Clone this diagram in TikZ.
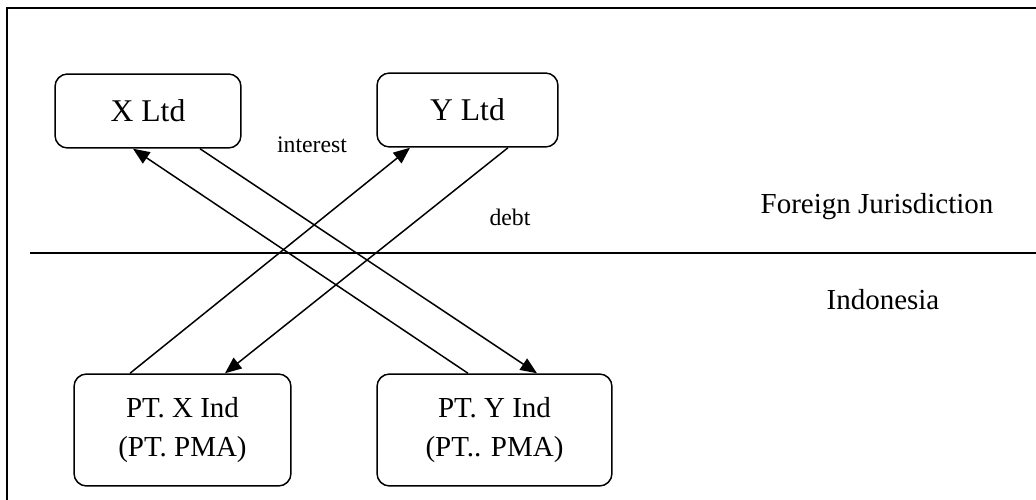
\documentclass[tikz,border=0pt]{standalone}
\usepackage{fontspec}
\setmainfont{Liberation Serif}
\usetikzlibrary{arrows.meta}

\begin{document}
\begin{tikzpicture}[x=0.02cm, y=-0.02cm, line width=0.85pt,
  firm/.style={draw, rounded corners=0.25cm, align=center, inner sep=0pt},
  flow/.style={-{Triangle[length=0.33cm,width=0.27cm]}},
  note/.style={font=\fontsize{13.5}{16}\selectfont}]
\useasboundingbox (0,0) rectangle (1036,500);
\clip (0,0) rectangle (1036,500);
\draw [line width=1.1pt] (7,520) -- (7,8) -- (1050,8);
\coordinate (Left) at (30,253);
\coordinate (Right) at (1050,253);
\draw (Left) -- (Right);

\node [firm, minimum width=3.72cm, minimum height=1.48cm, font=\fontsize{18}{22}\selectfont] (xltd) at (148,111) {X Ltd};
\node [firm, minimum width=3.62cm, minimum height=1.48cm, font=\fontsize{18}{22}\selectfont] (yltd) at (467.5,110) {Y Ltd};
\node [firm, minimum width=4.34cm, minimum height=2.24cm, font=\fontsize{16.5}{22}\selectfont] (ptx) at (182.5,430) {PT. X Ind\\(PT. PMA)};
\node [firm, minimum width=4.7cm, minimum height=2.24cm, font=\fontsize{16.5}{22}\selectfont] (pty) at (494.5,430) {PT. Y Ind\\(PT.. PMA)};

\node [note] (interest) at (312,145) {interest};
\node [note] (debt) at (510,217) {debt};
\node [font=\fontsize{16.5}{20}\selectfont] (foreign) at (877,207) {Foreign Jurisdiction};
\node [font=\fontsize{16.5}{20}\selectfont] (indonesia) at (883,300) {Indonesia};

\draw [flow] ([xshift=-1.05cm]ptx.north) -- ([xshift=-1.15cm]yltd.south);
\draw [flow] ([xshift=0.81cm]yltd.south) -- ([xshift=0.85cm]ptx.north);
\draw [flow] ([xshift=-0.53cm]pty.north) -- ([xshift=-0.3cm]xltd.south);
\draw [flow] ([xshift=1.04cm]xltd.south) -- ([xshift=0.85cm]pty.north);

\end{tikzpicture}
\end{document}
